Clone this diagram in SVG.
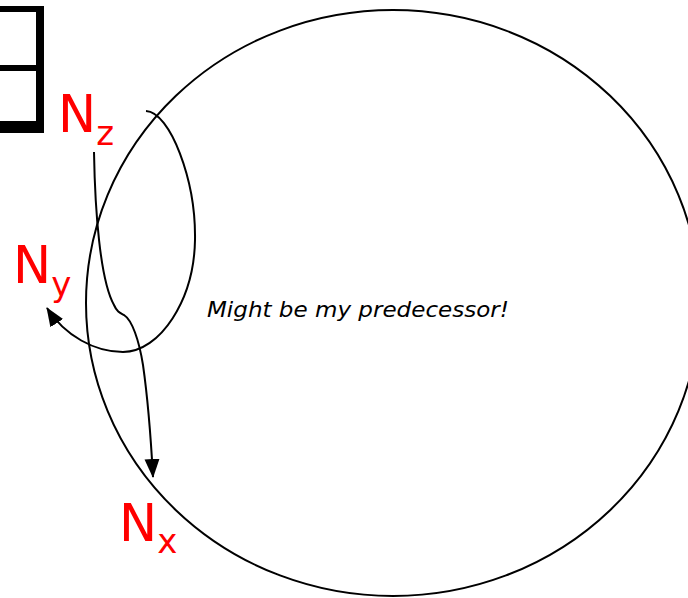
<svg xmlns="http://www.w3.org/2000/svg" width="688" height="598" viewBox="0 0 688 598">
<style>
.lbl{font-family:"DejaVu Sans","Liberation Sans",sans-serif;fill:#ff0000;font-size:51px}
.sub{font-size:34px}
.wire{fill:none;stroke:#000;stroke-width:2}
.note{font-family:"DejaVu Sans","Liberation Sans",sans-serif;font-style:italic;font-size:22px;fill:#000}
</style>
<defs>
<marker id="arr" markerUnits="userSpaceOnUse" markerWidth="20" markerHeight="18" viewBox="0 0 20 18" refX="18" refY="9" orient="auto">
<path d="M0,1.5 L19,9 L0,16.5 Z" fill="#000"/>
</marker>
</defs>
<rect width="688" height="598" fill="#fff"/>
<g id="box">
<rect x="0" y="6" width="44" height="6" fill="#000"/>
<rect x="36" y="6" width="8" height="127" fill="#000"/>
<rect x="0" y="65" width="36" height="6" fill="#000"/>
<rect x="0" y="121" width="44" height="12" fill="#000"/>
</g>
<g id="ring">
<ellipse cx="393" cy="303" rx="307" ry="293" fill="none" stroke="#000" stroke-width="2"/>
</g>
<g id="Nz"><text class="lbl" x="58" y="132">N<tspan class="sub" dy="13">z</tspan></text></g>
<g id="Ny"><text class="lbl" x="13" y="283">N<tspan class="sub" dy="13">y</tspan></text></g>
<g id="Nx"><text class="lbl" x="119" y="541">N<tspan class="sub" dy="12">x</tspan></text></g>
<g id="note"><text class="note" x="207" y="317" textLength="302" lengthAdjust="spacingAndGlyphs">Might be my predecessor!</text></g>
<g id="connectors">
<path class="wire" d="M146,111 C170,112 196,180 195,240 C194,300 160,352 123,352 C95,352 65,336 47,308" marker-end="url(#arr)"/>
<path class="wire" d="M94,152 C95,210 100,280 114,305 C117,312 120,313 124,315 C132,320 139,340 143,365 C148,400 151,440 153,477" marker-end="url(#arr)"/>
</g>
</svg>
